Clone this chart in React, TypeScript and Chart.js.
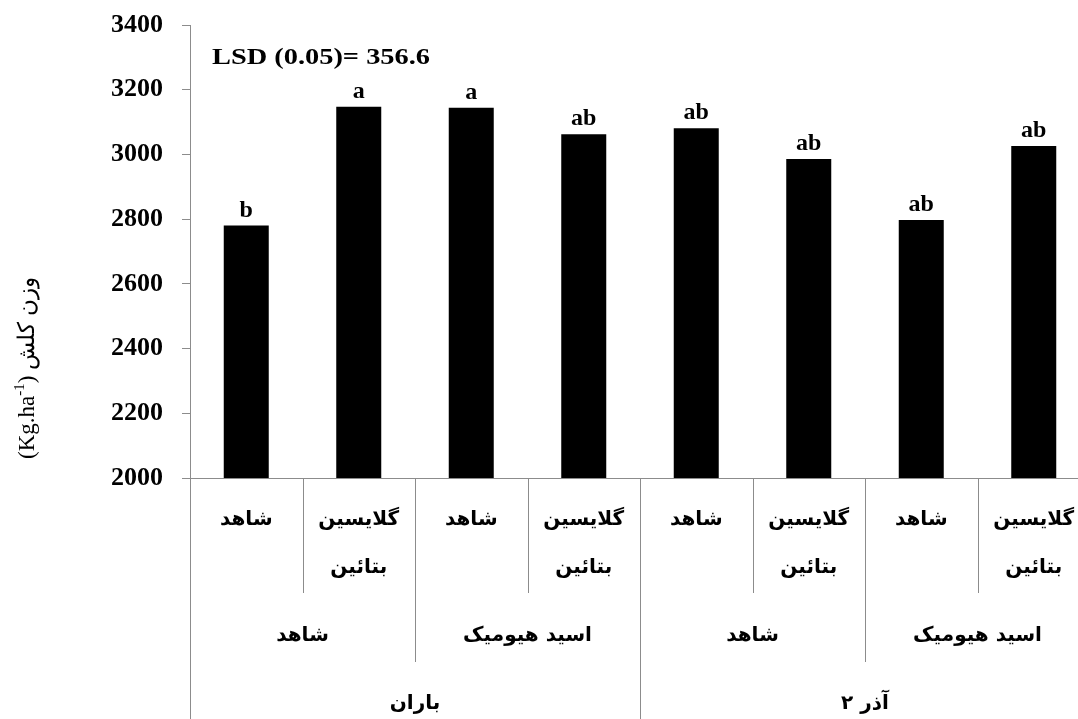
import React, { useEffect, useRef } from "react";
import { Chart, registerables } from "chart.js";

Chart.register(...registerables);

const treatments = ["شاهد", "گلایسین بتائین", "شاهد", "گلایسین بتائین", "شاهد", "گلایسین بتائین", "شاهد", "گلایسین بتائین"];
const subLines: string[][] = [
  ["شاهد"], ["گلایسین", "بتائین"], ["شاهد"], ["گلایسین", "بتائین"],
  ["شاهد"], ["گلایسین", "بتائین"], ["شاهد"], ["گلایسین", "بتائین"],
];
const acidGroups = ["شاهد", "اسید هیومیک", "شاهد", "اسید هیومیک"];
const dateGroups = ["باران", "آذر ۲"];
const values = [2780, 3147, 3144, 3062, 3081, 2986, 2797, 3026];
const letters = ["b", "a", "a", "ab", "ab", "ab", "ab", "ab"];
const yTicks = [2000, 2200, 2400, 2600, 2800, 3000, 3200, 3400];
const lsdText = "LSD (0.05)= 356.6";

const GRAY = "#8c8c8c";
const SERIF = '"Liberation Serif", "Times New Roman", serif';
const ARABIC = '"DejaVu Sans", sans-serif';

const overlay = {
  id: "overlay",
  afterDraw(chart: any) {
    const ctx = chart.ctx;
    const area = chart.chartArea;
    const xs = chart.scales.x;
    const meta = chart.getDatasetMeta(0);
    const n = values.length;
    const px = (i: number) => xs.getPixelForValue(i);
    const half = (px(1) - px(0)) / 2;
    ctx.save();

    // letters
    ctx.fillStyle = "#000";
    ctx.font = `bold 24px ${SERIF}`;
    ctx.textAlign = "center";
    ctx.textBaseline = "alphabetic";
    meta.data.forEach((el: any, i: number) => {
      ctx.fillText(letters[i], el.x, el.y - 9);
    });

    // LSD
    ctx.save();
    ctx.textAlign = "left";
    ctx.font = `bold 24px ${SERIF}`;
    const lw = ctx.measureText(lsdText).width;
    const sx = 218 / lw;
    ctx.translate(area.left + 22, 64);
    ctx.scale(sx, 1);
    ctx.fillText(lsdText, 0, 0);
    ctx.restore();

    // dividers
    ctx.strokeStyle = GRAY;
    ctx.lineWidth = 1;
    const bottom = area.bottom;
    const line = (x: number, y2: number) => {
      ctx.beginPath();
      ctx.moveTo(Math.round(x) + 0.5, bottom);
      ctx.lineTo(Math.round(x) + 0.5, y2);
      ctx.stroke();
    };
    line(area.left, 719);
    for (let i = 0; i < n - 1; i++) {
      const b = px(i) + half;
      let y2 = 593;
      if ((i + 1) % 4 === 0) y2 = 719;
      else if ((i + 1) % 2 === 0) y2 = 662;
      line(b, y2);
    }

    // category labels
    ctx.font = `bold 20px ${ARABIC}`;
    ctx.textAlign = "center";
    ctx.textBaseline = "middle";
    ctx.direction = "rtl";
    for (let i = 0; i < n; i++) {
      const lines = subLines[i];
      lines.forEach((t, k) => ctx.fillText(t, px(i), 520 + k * 48));
    }
    acidGroups.forEach((t, g) => {
      const c = (px(g * 2) + px(g * 2 + 1)) / 2;
      ctx.fillText(t, c, 636);
    });
    dateGroups.forEach((t, g) => {
      const c = (px(g * 4) + px(g * 4 + 3)) / 2;
      ctx.fillText(t, c, 704);
    });

    // y title
    ctx.direction = "ltr";
    ctx.save();
    ctx.translate(28, 368);
    ctx.rotate(-Math.PI / 2);
    ctx.textBaseline = "middle";
    ctx.textAlign = "left";
    const mainFont = `23px ${SERIF}`;
    const supFont = `15px ${SERIF}`;
    const parts: { t: string; f: string; dy: number; rtl?: boolean }[] = [
      { t: "(Kg.ha", f: mainFont, dy: 0 },
      { t: "-1", f: supFont, dy: -8 },
      { t: ") ", f: mainFont, dy: 0 },
      { t: "وزن کلش", f: mainFont, dy: 0, rtl: true },
    ];
    let total = 0;
    parts.forEach((p) => {
      ctx.font = p.f;
      total += ctx.measureText(p.t).width;
    });
    let cx = -total / 2;
    parts.forEach((p) => {
      ctx.font = p.f;
      const w = ctx.measureText(p.t).width;
      if (p.rtl) {
        ctx.direction = "rtl";
        ctx.textAlign = "right";
        ctx.fillText(p.t, cx + w, p.dy);
        ctx.direction = "ltr";
        ctx.textAlign = "left";
      } else {
        ctx.fillText(p.t, cx, p.dy);
      }
      cx += w;
    });
    ctx.restore();

    ctx.restore();
  },
};

export default function App() {
  const ref = useRef<HTMLCanvasElement | null>(null);
  useEffect(() => {
    if (!ref.current) return;
    const chart = new Chart(ref.current, {
      type: "bar",
      data: {
        labels: treatments,
        datasets: [
          {
            data: values,
            backgroundColor: "#000",
            borderWidth: 0,
            categoryPercentage: 1,
            barPercentage: 0.4,
          },
        ],
      },
      options: {
        animation: false,
        responsive: false,
        devicePixelRatio: 1,
        layout: { padding: { top: 25, right: 10, left: 0, bottom: 0 } },
        plugins: { legend: { display: false }, tooltip: { enabled: false } },
        scales: {
          x: {
            grid: { display: false },
            border: { display: true, color: GRAY, width: 1 },
            ticks: { display: false },
            afterFit: (axis: any) => {
              axis.height = 241;
            },
          },
          y: {
            min: yTicks[0],
            max: yTicks[yTicks.length - 1],
            afterBuildTicks: (axis: any) => {
              axis.ticks = yTicks.map((v) => ({ value: v }));
            },
            grid: { display: true, drawOnChartArea: false, drawTicks: true, tickLength: 8, color: GRAY },
            border: { display: true, color: GRAY, width: 1 },
            ticks: {
              color: "#000",
              padding: 19,
              font: { family: SERIF, weight: "bold", size: 26 },
              callback: (v: any) => String(v),
            },
            afterFit: (axis: any) => {
              axis.width = 190;
              axis.paddingTop = 0;
              axis.paddingBottom = 0;
            },
          },
        },
      },
      plugins: [overlay],
    });
    return () => chart.destroy();
  }, []);
  return (
    <div
      style={{
        position: "fixed",
        left: 0,
        top: 0,
        width: 1078,
        height: 719,
        overflow: "hidden",
        background: "#fff",
      }}
    >
      <canvas ref={ref} width={1100} height={719} style={{ width: 1100, height: 719, display: "block" }} />
    </div>
  );
}
